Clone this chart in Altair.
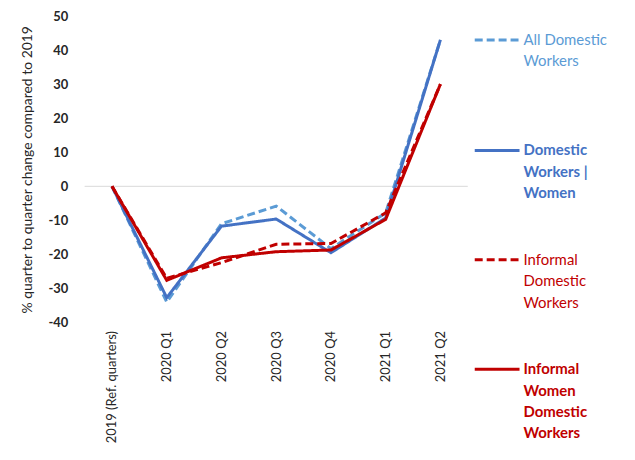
import altair as alt
import pandas as pd

quarters = ["2019 (Ref. quarters)", "2020 Q1", "2020 Q2", "2020 Q3", "2020 Q4", "2021 Q1", "2021 Q2"]
series_names = ["All Domestic Workers", "Domestic Workers | Women",
                "Informal Domestic Workers", "Informal Women Domestic Workers"]
all_dw = [0, -34.0, -11.0, -5.8, -18.3, -7.8, 43.0]
women_dw = [0, -32.7, -11.7, -9.6, -19.5, -9.3, 43.0]
informal_dw = [0, -27.0, -22.4, -17.0, -16.8, -7.8, 30.0]
informal_women_dw = [0, -27.6, -21.0, -19.2, -18.7, -9.7, 30.0]

colors = ["#5B9BD5", "#4472C4", "#C00000", "#C00000"]
dashes = [[8, 4], [1, 0], [8, 4], [1, 0]]
label_lines = [["All Domestic", "Workers"],
               ["Domestic", "Workers |", "Women"],
               ["Informal", "Domestic", "Workers"],
               ["Informal", "Women", "Domestic", "Workers"]]
label_bold = [False, True, False, True]
text_colors = ["#5B9BD5", "#4472C4", "#C00000", "#C00000"]

rows = []
for name, vals in zip(series_names, [all_dw, women_dw, informal_dw, informal_women_dw]):
    for i, (q, v) in enumerate(zip(quarters, vals)):
        rows.append({"series": name, "quarter": q, "value": v, "order": i})
df = pd.DataFrame(rows)

FONT = "Lato"
W, H = 385, 308
TOP = 7

y_axis = alt.Axis(title="% quarter to quarter change compared to 2019",
                  values=list(range(-40, 51, 10)), grid=False, domain=False,
                  ticks=False, labelPadding=17, labelFontSize=13,
                  labelOverlap=False, labelExpr="'' + datum.value",
                  labelFontWeight="bold", labelFont=FONT, labelColor="#262626",
                  titleFont=FONT, titleFontSize=14, titleFontWeight="normal",
                  titleColor="#262626", titlePadding=13)
y_scale = alt.Scale(domain=[-40, 50], nice=False)

x_enc = alt.X("quarter:N", sort=quarters,
              scale=alt.Scale(type="point", padding=0.5),
              axis=alt.Axis(title=None, labelAngle=-90, domain=False, ticks=False,
                            labelPadding=8, labelFontSize=13, labelFont=FONT,
                            labelColor="#262626", labelLimit=200))
y_enc = alt.Y("value:Q", scale=y_scale, axis=y_axis)

zero = alt.Chart(pd.DataFrame({"value": [0]})).mark_rule(color="#D9D9D9", strokeWidth=1).encode(
    y=alt.Y("value:Q", scale=y_scale, axis=y_axis),
    x=alt.value(0), x2=alt.value(W))

layers = [zero]
for name, c, d in zip(series_names, colors, dashes):
    layers.append(
        alt.Chart(df[df.series == name]).mark_line(color=c, strokeDash=d, strokeWidth=3)
        .encode(x=x_enc, y=y_enc, order="order:O")
    )

# custom legend
legend_top = [24, 135, 245, 355]
line_h = 21.5
one = pd.DataFrame({"a": [0]})
for k in range(4):
    yy = legend_top[k]
    layers.append(
        alt.Chart(one).mark_rule(color=colors[k], strokeDash=dashes[k], strokeWidth=3)
        .encode(x=alt.value(392), x2=alt.value(437), y=alt.value(yy))
    )
    for j, t in enumerate(label_lines[k]):
        layers.append(
            alt.Chart(one).mark_text(align="left", baseline="middle", font=FONT, fontSize=15,
                                     fontWeight="bold" if label_bold[k] else "normal",
                                     color=text_colors[k])
            .encode(x=alt.value(441), y=alt.value(yy + j * line_h), text=alt.value(t))
        )

chart = alt.layer(*layers).properties(
    width=W, height=H,
    autosize=alt.AutoSizeParams(type="none"),
    padding={"left": 77, "top": TOP, "right": 160, "bottom": 128},
).configure_view(stroke=None)

chart.save("out.html", embed_options={"renderer": "svg", "actions": False})
